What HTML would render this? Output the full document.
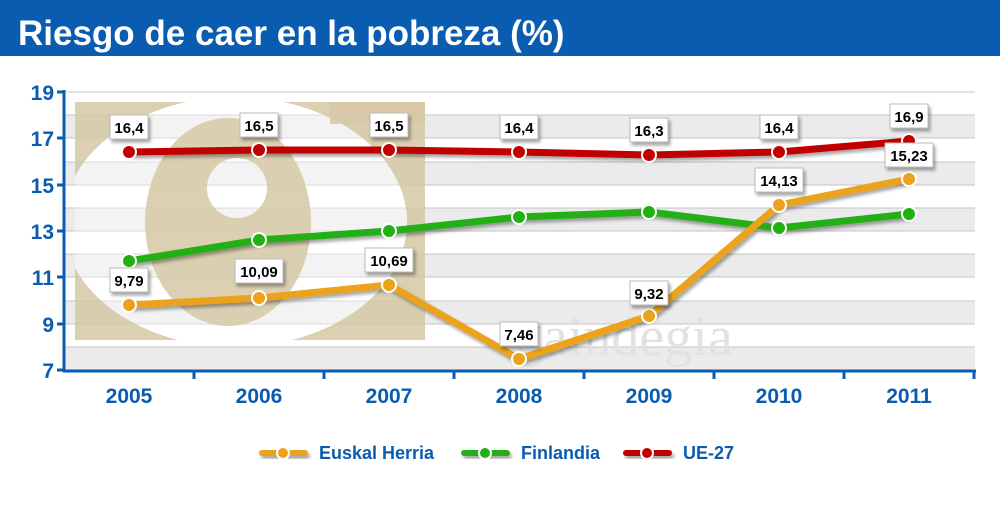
<!DOCTYPE html>
<html><head><meta charset="utf-8"><style>
body{margin:0;width:1000px;height:500px;overflow:hidden;background:#fff;font-family:"Liberation Sans",sans-serif}
</style></head><body>
<svg width="1000" height="500" xmlns="http://www.w3.org/2000/svg" font-family="Liberation Sans, sans-serif">
<defs><filter id="sh" x="-20%" y="-50%" width="150%" height="200%"><feDropShadow dx="2" dy="3" stdDeviation="1.5" flood-color="#000" flood-opacity="0.35"/></filter>
<clipPath id="wm"><rect x="75" y="102" width="350" height="238"/></clipPath></defs>
<rect x="0" y="0" width="1000" height="56" fill="#0a5cb0"/>
<text x="18" y="45" font-size="35" font-weight="bold" fill="#fff">Riesgo de caer en la pobreza (%)</text>
<g fill="#ebebeb">
<rect x="64" y="347" width="911" height="23"/><rect x="64" y="301" width="911" height="23"/>
<rect x="64" y="254" width="911" height="23"/><rect x="64" y="208" width="911" height="23"/>
<rect x="64" y="162" width="911" height="23"/><rect x="64" y="115" width="911" height="23"/>
</g>
<g stroke="#c4c4c4" stroke-width="1">
<line x1="64" x2="975" y1="92" y2="92"/><line x1="64" x2="975" y1="115" y2="115"/><line x1="64" x2="975" y1="138" y2="138"/><line x1="64" x2="975" y1="162" y2="162"/><line x1="64" x2="975" y1="185" y2="185"/><line x1="64" x2="975" y1="208" y2="208"/><line x1="64" x2="975" y1="231" y2="231"/><line x1="64" x2="975" y1="254" y2="254"/><line x1="64" x2="975" y1="277" y2="277"/><line x1="64" x2="975" y1="301" y2="301"/><line x1="64" x2="975" y1="324" y2="324"/><line x1="64" x2="975" y1="347" y2="347"/>
</g>
<g clip-path="url(#wm)">
<path fill="#d6c8a6" opacity="0.85" fill-rule="evenodd" d="M75,102H425V340H75Z M63,222 A172,125 0 1,0 407,222 A172,125 0 1,0 63,222Z"/>
<ellipse cx="235" cy="222" rx="172" ry="125" fill="#fff" opacity="0.4"/>
<path fill="#d6c8a6" opacity="0.85" fill-rule="evenodd" d="M145,222 A83,104 0 1,0 311,222 A83,104 0 1,0 145,222Z M207,188 A30,30 0 1,0 267,188 A30,30 0 1,0 207,188Z"/>
<rect x="330" y="102" width="95" height="22" fill="#d6c8a6" opacity="0.85"/>
</g>
<text x="515" y="355" font-size="56" fill="#e2e2e2" font-family="Liberation Serif, serif">gaindegia</text>
<g stroke="#0a5cb0" stroke-width="3">
<line x1="64" y1="90" x2="64" y2="372"/><line x1="63" y1="371" x2="976" y2="371"/>
<line x1="57" y1="92" x2="64" y2="92"/><line x1="57" y1="138" x2="64" y2="138"/><line x1="57" y1="185" x2="64" y2="185"/><line x1="57" y1="231" x2="64" y2="231"/><line x1="57" y1="277" x2="64" y2="277"/><line x1="57" y1="324" x2="64" y2="324"/><line x1="57" y1="370" x2="64" y2="370"/>
<line x1="194" y1="371" x2="194" y2="379"/><line x1="324" y1="371" x2="324" y2="379"/><line x1="454" y1="371" x2="454" y2="379"/><line x1="584" y1="371" x2="584" y2="379"/><line x1="714" y1="371" x2="714" y2="379"/><line x1="844" y1="371" x2="844" y2="379"/><line x1="974" y1="371" x2="974" y2="379"/>
</g>
<g fill="#0a5cb0" font-size="21" font-weight="bold" text-anchor="end">
<text x="54" y="100">19</text><text x="54" y="146">17</text><text x="54" y="193">15</text><text x="54" y="239">13</text><text x="54" y="285">11</text><text x="54" y="332">9</text><text x="54" y="378">7</text>
</g>
<g fill="#0a5cb0" font-size="21" font-weight="bold" text-anchor="middle">
<text x="129" y="403">2005</text><text x="259" y="403">2006</text><text x="389" y="403">2007</text><text x="519" y="403">2008</text><text x="649" y="403">2009</text><text x="779" y="403">2010</text><text x="909" y="403">2011</text>
</g>
<g fill="none" stroke-width="7" stroke-linejoin="round" filter="url(#sh)">
<polyline stroke="#c00000" points="129,152 259,150 389,150 519,152 649,155 779,152 909,141"/>
<polyline stroke="#22b014" points="129,261 259,240 389,231 519,217 649,212 779,228 909,214"/>
<polyline stroke="#eba21a" points="129,305 259,298 389,285 519,359 649,316 779,205 909,179"/>
</g>
<g stroke="#fff" stroke-width="2">
<g fill="#c00000"><circle cx="129" cy="152" r="7"/><circle cx="259" cy="150" r="7"/><circle cx="389" cy="150" r="7"/><circle cx="519" cy="152" r="7"/><circle cx="649" cy="155" r="7"/><circle cx="779" cy="152" r="7"/><circle cx="909" cy="141" r="7"/></g>
<g fill="#22b014"><circle cx="129" cy="261" r="7"/><circle cx="259" cy="240" r="7"/><circle cx="389" cy="231" r="7"/><circle cx="519" cy="217" r="7"/><circle cx="649" cy="212" r="7"/><circle cx="779" cy="228" r="7"/><circle cx="909" cy="214" r="7"/></g>
<g fill="#eba21a"><circle cx="129" cy="305" r="7"/><circle cx="259" cy="298" r="7"/><circle cx="389" cy="285" r="7"/><circle cx="519" cy="359" r="7"/><circle cx="649" cy="316" r="7"/><circle cx="779" cy="205" r="7"/><circle cx="909" cy="179" r="7"/></g>
</g>
<g font-size="15" font-weight="bold" text-anchor="middle" fill="#000">
<g fill="#fff" stroke="#bbb" stroke-width="1" filter="url(#sh)">
<rect x="110" y="115" width="38" height="24"/><rect x="240" y="113" width="38" height="24"/><rect x="370" y="113" width="38" height="24"/><rect x="500" y="115" width="38" height="24"/><rect x="630" y="118" width="38" height="24"/><rect x="760" y="115" width="38" height="24"/><rect x="890" y="104" width="38" height="24"/>
<rect x="110" y="268" width="38" height="24"/><rect x="235" y="259" width="48" height="24"/><rect x="365" y="248" width="48" height="24"/><rect x="500" y="322" width="38" height="24"/><rect x="630" y="281" width="38" height="24"/><rect x="755" y="168" width="48" height="24"/><rect x="885" y="143" width="48" height="24"/>
</g>
<text x="129" y="133">16,4</text><text x="259" y="131">16,5</text><text x="389" y="131">16,5</text><text x="519" y="133">16,4</text><text x="649" y="136">16,3</text><text x="779" y="133">16,4</text><text x="909" y="122">16,9</text>
<text x="129" y="286">9,79</text><text x="259" y="277">10,09</text><text x="389" y="266">10,69</text><text x="519" y="340">7,46</text><text x="649" y="299">9,32</text><text x="779" y="186">14,13</text><text x="909" y="161">15,23</text>
</g>
<g filter="url(#sh)">
<rect x="259" y="450" width="49" height="6" rx="3" fill="#eba21a"/><rect x="461" y="450" width="49" height="6" rx="3" fill="#22b014"/><rect x="623" y="450" width="49" height="6" rx="3" fill="#c00000"/>
</g>
<g stroke="#fff" stroke-width="2">
<circle cx="283" cy="453" r="6" fill="#eba21a"/><circle cx="485" cy="453" r="6" fill="#22b014"/><circle cx="647" cy="453" r="6" fill="#c00000"/>
</g>
<g fill="#0a5cb0" font-size="18" font-weight="bold">
<text x="319" y="459">Euskal Herria</text><text x="521" y="459">Finlandia</text><text x="683" y="459">UE-27</text>
</g>
</svg>
</body></html>
